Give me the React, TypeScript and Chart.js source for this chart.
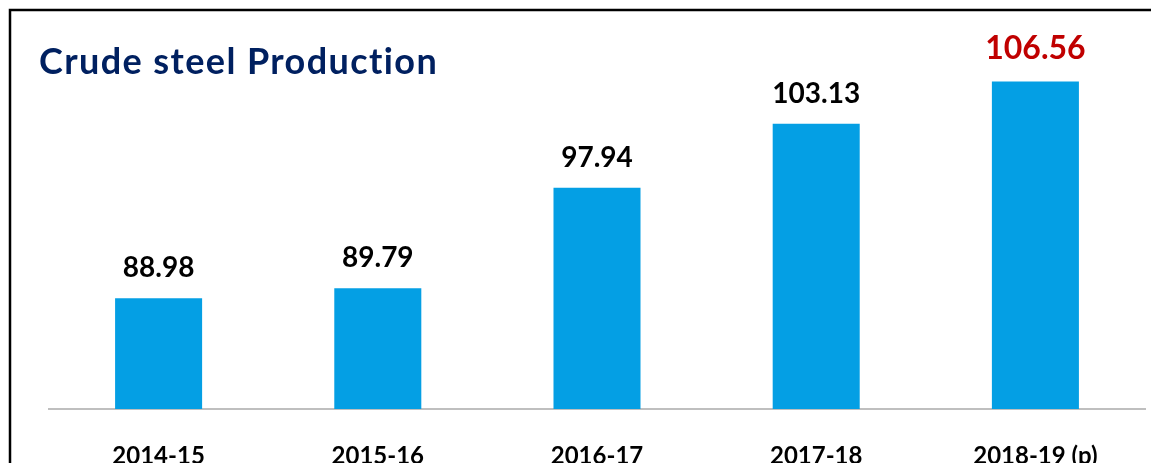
import React, { useEffect, useRef } from "react";
import { Chart, registerables } from "chart.js";

Chart.register(...registerables);

const categories = ["2014-15", "2015-16", "2016-17", "2017-18", "2018-19 (p)"];
const production = [88.98, 89.79, 97.94, 103.13, 106.56];
const valueLabels = ["88.98", "89.79", "97.94", "103.13", "106.56"];
const titleText = "Crude steel Production";

const FONT = "Lato, 'Open Sans', sans-serif";

const decorPlugin = {
  id: "decor",
  afterDraw(chart: any) {
    const ctx = chart.ctx;
    ctx.save();
    // frame
    ctx.strokeStyle = "#000000";
    ctx.lineWidth = 2.5;
    ctx.beginPath();
    ctx.moveTo(10, 470);
    ctx.lineTo(10, 10);
    ctx.lineTo(1160, 10);
    ctx.stroke();
    // title
    ctx.fillStyle = "#002060";
    ctx.font = `bold 36px ${FONT}`;
    ctx.textAlign = "left";
    ctx.textBaseline = "alphabetic";
    (ctx as any).letterSpacing = "1.4px";
    ctx.fillText(titleText, 39, 74);
    (ctx as any).letterSpacing = "0px";
    // value labels
    const meta = chart.getDatasetMeta(0);
    meta.data.forEach((bar: any, i: number) => {
      const last = i === valueLabels.length - 1;
      ctx.fillStyle = last ? "#C00000" : "#000000";
      ctx.font = `bold ${last ? 32 : 28}px ${FONT}`;
      ctx.textAlign = "center";
      ctx.fillText(valueLabels[i], bar.x, bar.y - (last ? 22 : 21));
    });
    ctx.restore();
  },
};

export default function App() {
  const ref = useRef<HTMLCanvasElement>(null);
  useEffect(() => {
    document.body.style.margin = "0";
    const chart = new Chart(ref.current!, {
      type: "bar",
      data: {
        labels: categories,
        datasets: [
          {
            data: production,
            backgroundColor: "#049FE4",
            borderWidth: 0,
            barPercentage: 0.397,
            categoryPercentage: 1,
          },
        ],
      },
      options: {
        animation: false,
        responsive: false,
        layout: { padding: { left: 49, right: 6, top: 39, bottom: 0 } },
        plugins: { legend: { display: false }, tooltip: { enabled: false }, title: { display: false } },
        scales: {
          y: { display: false, min: 80, max: 110 },
          x: {
            grid: { display: false },
            border: { display: true, color: "#BFBFBF", width: 2 },
            ticks: {
              color: "#000000",
              font: { family: FONT, size: 24, weight: "bold" },
              padding: 25,
              maxRotation: 0,
              autoSkip: false,
            },
            afterFit: (scale: any) => {
              scale.height = 54;
            },
          },
        },
      },
      plugins: [decorPlugin],
    });
    return () => chart.destroy();
  }, []);
  return (
    <div style={{ position: "absolute", left: 0, top: 0, width: 1151, height: 463, background: "#fff" }}>
      <canvas ref={ref} width={1151} height={463} style={{ display: "block" }} />
    </div>
  );
}
